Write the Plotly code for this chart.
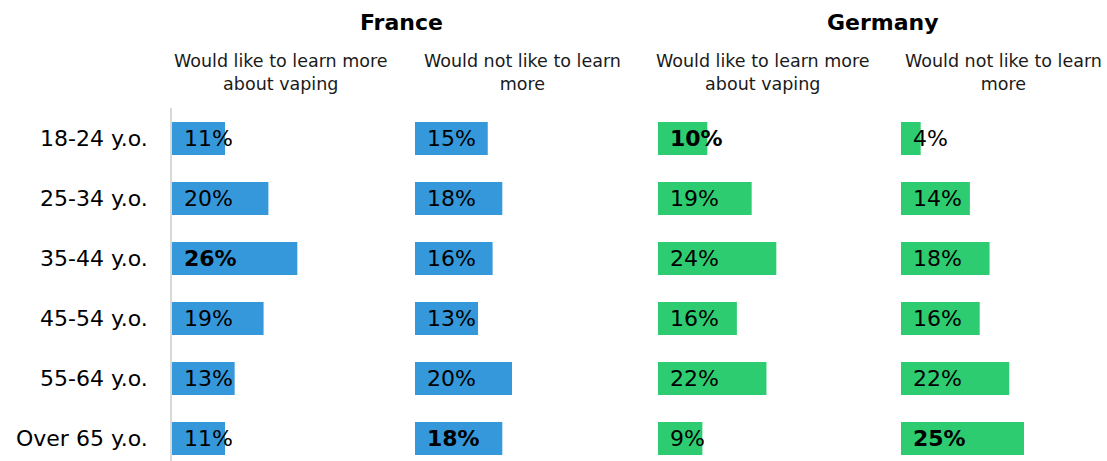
import plotly.graph_objects as go

# Survey data: share of each age group, by country and answer
age_groups = ["18-24 y.o.", "25-34 y.o.", "35-44 y.o.", "45-54 y.o.", "55-64 y.o.", "Over 65 y.o."]
countries = ["France", "Germany"]
answers = ["Would like to learn more<br>about vaping", "Would not like to learn<br>more"]

france_like = [11, 20, 26, 19, 13, 11]
france_not = [15, 18, 16, 13, 20, 18]
germany_like = [10, 19, 24, 16, 22, 9]
germany_not = [4, 14, 18, 16, 22, 25]

# Highlighted (bold) values
france_like_bold = [False, False, True, False, False, False]
france_not_bold = [False, False, False, False, False, True]
germany_like_bold = [True, False, False, False, False, False]
germany_not_bold = [False, False, False, False, False, True]

BLUE = "#3498db"
GREEN = "#2ecc71"
FONT = "DejaVu Sans"
W, H = 1107, 461

panels = [
    dict(values=france_like, bold=france_like_bold, color=BLUE, x0=172, width=215, ppu=4.82, hdr=281),
    dict(values=france_not, bold=france_not_bold, color=BLUE, x0=415, width=215, ppu=4.85, hdr=522),
    dict(values=germany_like, bold=germany_like_bold, color=GREEN, x0=658, width=215, ppu=4.93, hdr=762.5),
    dict(values=germany_not, bold=germany_not_bold, color=GREEN, x0=901, width=206, ppu=4.92, hdr=1003.5),
]

plot_top = 108
row_px = 60
first_row_px = 138.5
y_top = -(first_row_px - plot_top) / row_px
y_bottom = y_top + (H - plot_top) / row_px

fig = go.Figure()
annotations = []

for i, p in enumerate(panels):
    n = i + 1
    xname = "x" if n == 1 else f"x{n}"
    yname = "y" if n == 1 else f"y{n}"
    fig.add_trace(go.Bar(
        x=p["values"], y=age_groups, orientation="h",
        marker=dict(color=p["color"], line=dict(width=0)),
        xaxis=xname, yaxis=yname, showlegend=False, hoverinfo="skip",
    ))
    dom = [p["x0"] / W, (p["x0"] + p["width"]) / W]
    fig.layout[f"xaxis{'' if n == 1 else n}"] = dict(
        domain=dom, range=[0, p["width"] / p["ppu"]], visible=False, fixedrange=True,
    )
    fig.layout[f"yaxis{'' if n == 1 else n}"] = dict(
        domain=[0, (H - plot_top) / H], anchor=xname,
        type="category", categoryarray=age_groups,
        range=[y_bottom, y_top], showticklabels=False, ticks="",
        showgrid=False, zeroline=False,
        showline=(n == 1), linecolor="#d9d9d9", linewidth=2,
    )
    for age, v, b in zip(age_groups, p["values"], p["bold"]):
        txt = f"{v}%"
        annotations.append(dict(
            x=0, y=age, xref=xname, yref=yname, xanchor="left", yanchor="middle",
            xshift=10, text=f"<b>{txt}</b>" if b else txt, showarrow=False,
            font=dict(family=FONT, size=22, color="#000000"),
        ))
    # column header
    annotations.append(dict(
        x=p["hdr"] / W, y=1 - 73 / H, xref="paper", yref="paper",
        xanchor="center", yanchor="middle", text=answers[i % 2], showarrow=False,
        font=dict(family=FONT, size=17.5, color="#1a1a1a"),
    ))

# country titles
for c, cx in zip(countries, [401, 883]):
    annotations.append(dict(
        x=cx / W, y=1 - 22 / H, xref="paper", yref="paper",
        xanchor="center", yanchor="middle", text=f"<b>{c}</b>", showarrow=False,
        font=dict(family=FONT, size=22, color="#000000"),
    ))

# age-group row labels
for age in age_groups:
    annotations.append(dict(
        x=150 / W, y=age, xref="paper", yref="y", xanchor="right", yanchor="middle",
        text=age, showarrow=False, font=dict(family=FONT, size=22, color="#000000"),
    ))

fig.update_layout(
    width=W, height=H,
    margin=dict(l=0, r=0, t=0, b=0),
    paper_bgcolor="white", plot_bgcolor="white",
    bargap=0.45,
    annotations=annotations,
)

fig.write_html("out.html", config={"displayModeBar": False})
